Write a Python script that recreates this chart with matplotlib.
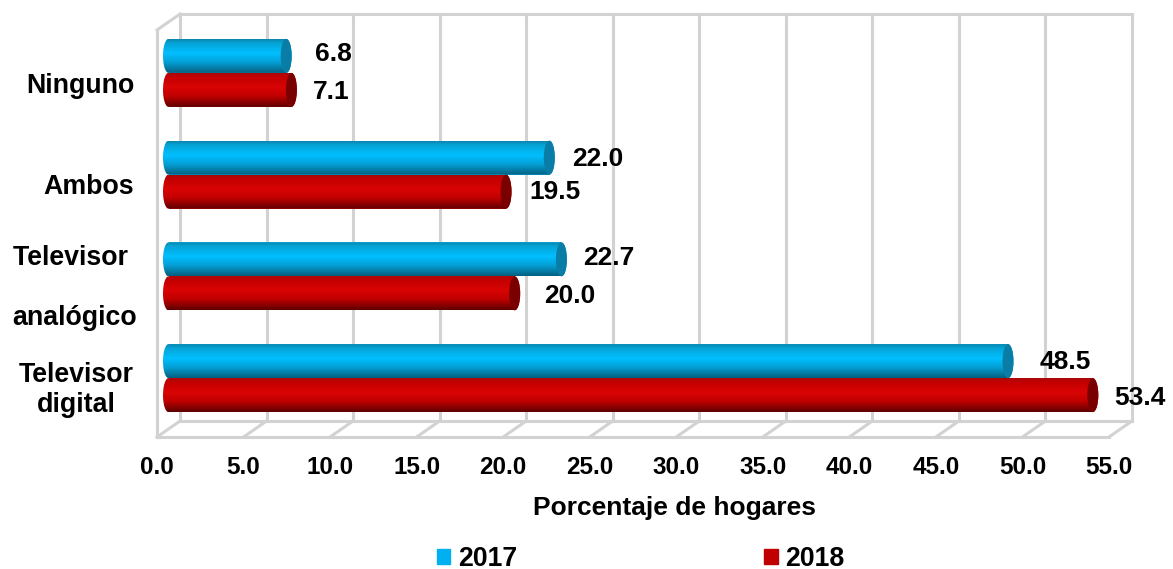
import numpy as np
import matplotlib
matplotlib.use("Agg")
import matplotlib.pyplot as plt
from matplotlib.colors import LinearSegmentedColormap
from matplotlib.patches import Ellipse, Polygon, Patch
from matplotlib.transforms import Affine2D

# ---- data
categories = ["Televisor\ndigital", "Televisor \n\nanalógico", "Ambos", "Ninguno"]
values_2017 = [48.5, 22.7, 22.0, 6.8]
values_2018 = [53.4, 20.0, 19.5, 7.1]
series_names = ["2017", "2018"]
x_ticks = [0, 5, 10, 15, 20, 25, 30, 35, 40, 45, 50, 55]

# ---- label nudges from bar end, pixels
nudge_2017 = [(57, 1), (47, -1), (48, 1), (47, -2)]
nudge_2018 = [(47, 3), (55, 3), (49, 0), (40, 2)]
# ---- category label layout: alignment, pad (pt), downward shift (px)
cat_layout = [('center', 58.3, -1), ('center', 59.5, -1), ('right', 16.5, 1), ('right', 16.5, 2)]

plt.rcParams['font.family'] = ['Liberation Sans', 'DejaVu Sans']
plt.rcParams['font.weight'] = 'bold'
W, H, DPI = 1173, 569, 100
fig = plt.figure(figsize=(W / DPI, H / DPI), dpi=DPI)
ax = fig.add_axes([157 / W, 1 - 437 / H, 952 / W, 407 / H])
ax.patch.set_visible(False)
for s in ax.spines.values():
    s.set_visible(False)

GRID = '#d2d2d2'
LW = 2.2
back = ax.transData + Affine2D().translate(23, 16)
mid = ax.transData + Affine2D().translate(11.5, 8)

XMAX, Y0, Y1 = 55, -0.5, 3.5
DX, DY = 23 / 17.31, 16 / 101.75
# back wall
for t in x_ticks:
    ax.plot([t, t], [Y0, Y1], color=GRID, lw=LW, transform=back, clip_on=False, zorder=1)
    # floor diagonals
    ax.plot([t, t + DX], [Y0, Y0 + DY], color=GRID, lw=LW, clip_on=False, zorder=1)
ax.plot([0, XMAX], [Y1, Y1], color=GRID, lw=LW, transform=back, clip_on=False, zorder=1)
ax.plot([0, XMAX], [Y0, Y0], color=GRID, lw=LW, transform=back, clip_on=False, zorder=1)
# front floor, left wall
ax.plot([0, XMAX], [Y0, Y0], color=GRID, lw=LW, clip_on=False, zorder=1)
ax.plot([0, 0], [Y0, Y1], color=GRID, lw=LW, clip_on=False, zorder=1)
ax.plot([0, DX], [Y1, Y1 + DY], color=GRID, lw=LW, clip_on=False, zorder=1)

blue = LinearSegmentedColormap.from_list('b', [(0, '#0a86ad'), (.12, '#06a4d6'), (.42, '#00bfff'),
                                               (.68, '#04a0d6'), (1, '#055f7e')])
red = LinearSegmentedColormap.from_list('r', [(0, '#a80a0a'), (.12, '#c40000'), (.42, '#d90404'),
                                              (.68, '#c00000'), (1, '#5e0000')])
H_BAR = 34 / 101.75
RX = 5.5 / 17.31
grad = np.linspace(0, 1, 128).reshape(-1, 1)
theta = np.linspace(-np.pi / 2, np.pi / 2, 40)


def draw_series(vals, side, cmap, base, cap, nudges, z):
    ypos = [i + side * H_BAR / 2 for i in range(len(vals))]
    bars = ax.barh(ypos, vals, height=H_BAR, color=base, zorder=z)
    for bar in bars:
        bar.set_transform(mid)
        bar.set_clip_on(False)
    for y, v, (nx, ny) in zip(ypos, vals, nudges):
        ry = H_BAR / 2
        xs = np.r_[v + RX * np.cos(theta), -RX * np.cos(theta[::-1])]
        ys = np.r_[y + ry * np.sin(theta), y + ry * np.sin(theta[::-1])]
        clip = Polygon(np.c_[xs, ys], closed=True, transform=mid, fc='none', ec='none')
        ax.add_patch(clip)
        im = ax.imshow(grad, cmap=cmap, aspect='auto', extent=(-RX, v + RX, y - ry, y + ry),
                       zorder=z + .1, transform=mid, interpolation='bilinear')
        im.set_clip_path(clip)
        ax.add_patch(Ellipse((v, y), RX * 2, H_BAR, fc=cap, ec='none', transform=mid,
                             zorder=z + .2, clip_on=False))
        ax.annotate(f"{v:.1f}", xy=(v, y), xycoords=mid, xytext=(nx * 72 / DPI, -ny * 72 / DPI),
                    textcoords='offset points', ha='center', va='center', fontsize=19,
                    fontweight='bold', color='black', zorder=10, annotation_clip=False)


draw_series(values_2017, 1, blue, '#00bfff', '#0a7da6', nudge_2017, 3)
draw_series(values_2018, -1, red, '#d00000', '#7a0000', nudge_2018, 4)

ax.set_xlim(0, XMAX)
ax.set_ylim(Y0, Y1)
ax.set_aspect('auto')

ax.set_xticks(x_ticks, [f"{t:.1f}" for t in x_ticks], fontsize=17.5, fontweight='bold')
ax.tick_params(axis='x', length=0, pad=14)
ax.set_xlabel("Porcentaje de hogares", fontsize=19, fontweight='bold')
ax.xaxis.set_label_coords(517 / 952, -(508 - 437) / 407, transform=ax.transAxes)
ax.xaxis.label.set_va('center')

ax.set_yticks(range(len(categories)), categories, fontsize=19.3, fontweight='bold', linespacing=1.2)
ax.tick_params(axis='y', length=0)
for tick, (ha, pad, shift) in zip(ax.yaxis.get_major_ticks(), cat_layout):
    tick.set_pad(pad)
    tick.label1.set_ha(ha)
    tick.label1.set_multialignment('center')
    tick.label1.set_transform(tick.label1.get_transform() + Affine2D().translate(0, -shift))

handles = [Patch(color='#00b0f0'), Patch(color='#c00000')]
fig.legend(handles, series_names, loc='center', bbox_to_anchor=(641 / W, 1 - 559 / H), ncol=2,
           frameon=False, handlelength=0.5, handleheight=0.5, handletextpad=0.3, columnspacing=9.25,
           borderpad=0, borderaxespad=0, prop={'size': 19.2, 'weight': 'bold'})

fig.savefig("out.png", dpi=DPI)
